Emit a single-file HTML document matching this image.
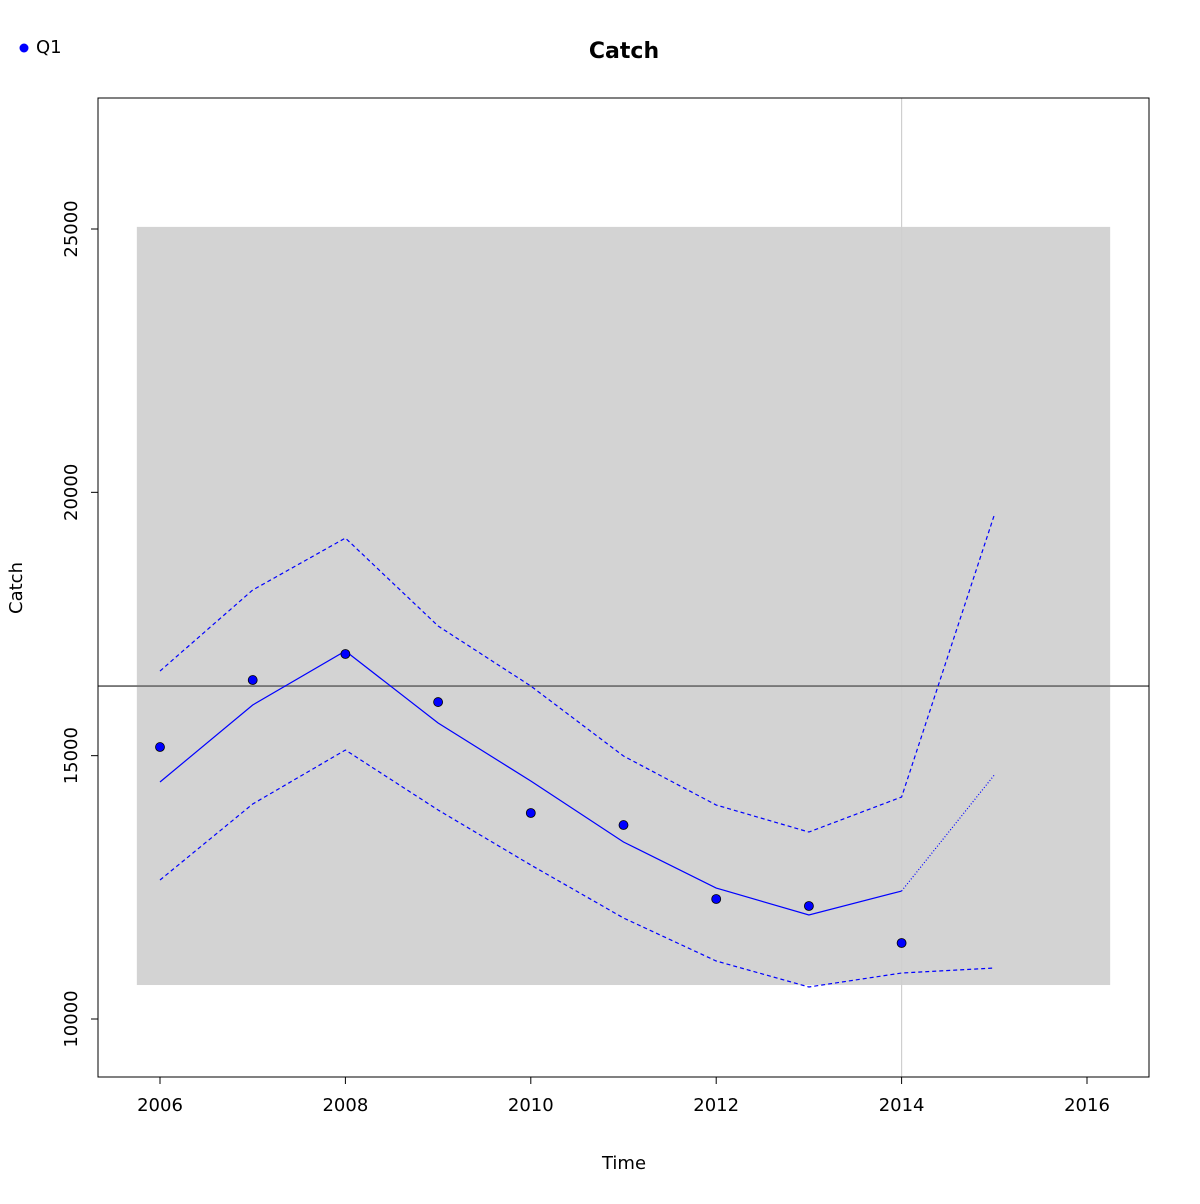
<!DOCTYPE html>
<html><head><meta charset="utf-8"><style>
body{margin:0;background:#fff;font-family:"DejaVu Sans","Liberation Sans",sans-serif;}
</style></head><body>
<svg id="chart" width="1200" height="1200" xmlns="http://www.w3.org/2000/svg" font-family="DejaVu Sans, Liberation Sans, sans-serif">
<rect width="1200" height="1200" fill="#fff"/>
<g id="g"></g>
</svg>
<script>
const years=[2006,2007,2008,2009,2010,2011,2012,2013,2014];
const observed=[15164,16436,16930,16018,13911,13683,12278,12146,11443];
const fitted=[14500,15962,16987,15620,14519,13361,12487,11975,12430];
const projYears=[2014,2015];
const projFitted=[12430,14633];
const upperYears=[2006,2007,2008,2009,2010,2011,2012,2013,2014,2015];
const upper=[16607,18145,19132,17462,16322,14993,14063,13550,14215,19570];
const lower=[12639,14082,15107,13968,12924,11918,11101,10608,10873,10968];
const xTicks=[2006,2008,2010,2012,2014,2016];
const yTicks=[10000,15000,20000,25000];
const refLevel=16322;
const bandX=[2005.75,2016.25];
const bandY=[10645,25040];
const currentYear=2014;

const NS="http://www.w3.org/2000/svg";
const g=document.getElementById('g');
const X=v=>160+(v-2006)*92.7;
const Y=v=>1019-(v-10000)*0.052667;
function el(t,a,p){const e=document.createElementNS(NS,t);for(const k in a)e.setAttribute(k,a[k]);(p||g).appendChild(e);return e;}
function txt(s,a){const e=el('text',a);e.textContent=s;return e;}

let r=el('rect',{x:X(bandX[0]),y:Y(bandY[1]),width:X(bandX[1])-X(bandX[0]),height:Y(bandY[0])-Y(bandY[1]),fill:'#d3d3d3'});


let vl=el('line',{x1:X(currentYear),x2:X(currentYear),y1:98,y2:1077,stroke:'#cfcfcf','stroke-width':1.2});


let hl=el('line',{x1:98,x2:1149,y1:Y(refLevel),y2:Y(refLevel),stroke:'#777','stroke-width':1.8});



function poly(xs,ys,name,dash){
  const p=el('polyline',{points:xs.map((x,i)=>X(x)+','+Y(ys[i])).join(' '),fill:'none',stroke:'#0000ff','stroke-width':1.2});
  if(dash)p.setAttribute('stroke-dasharray',dash);
  
  
}
poly(upperYears,upper,'upper-bound-line','4,3');
poly(upperYears,lower,'lower-bound-line','4,3');
poly(years,fitted,'fitted-line',null);
poly(projYears,projFitted,'projection-line','1,2');

observed.forEach((v,i)=>{
  const c=el('circle',{cx:X(years[i]),cy:Y(v),r:4.5,fill:'#0000ff',stroke:'#000','stroke-width':0.8});
  
  
});

let box=el('rect',{x:98,y:98,width:1051,height:979,fill:'none',stroke:'#000','stroke-width':1});



el('line',{x1:X(xTicks[0]),x2:X(xTicks[xTicks.length-1]),y1:1077,y2:1077,stroke:'#000'});
xTicks.forEach(t=>{
  el('line',{x1:X(t),x2:X(t),y1:1077,y2:1084,stroke:'#000'});
  const e=txt(t,{x:X(t),y:1111,'text-anchor':'middle','font-size':18});
  
  
});
yTicks.forEach(t=>{
  el('line',{x1:98,x2:91,y1:Y(t),y2:Y(t),stroke:'#000'});
  const e=txt(t,{x:77,y:Y(t),'text-anchor':'middle','font-size':18,transform:`rotate(-90 77 ${Y(t)})`});
  
  
});
let xt=txt('Time',{x:624,y:1169,'text-anchor':'middle','font-size':18});


let yt=txt('Catch',{x:22,y:588,'text-anchor':'middle','font-size':18,transform:'rotate(-90 22 588)'});


let tt=txt('Catch',{x:624,y:58,'text-anchor':'middle','font-size':22,'font-weight':'bold'});


let lc=el('circle',{cx:24,cy:48,r:4.5,fill:'#0000ff'});


let lt=txt('Q1',{x:36,y:53,'font-size':18});


</script>
</body></html>
